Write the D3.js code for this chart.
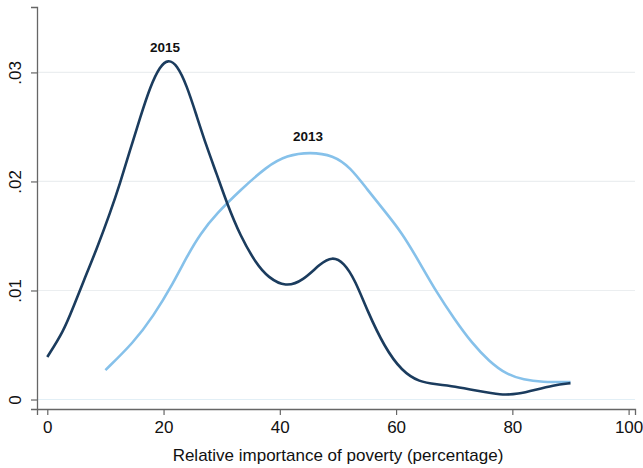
<!DOCTYPE html>
<html>
<head>
<meta charset="utf-8">
<script src="https://cdn.jsdelivr.net/npm/d3@7"></script>
<style>
  body { margin: 0; background: #fff; }
  svg { display: block; font-family: "Liberation Sans", Arial, sans-serif; }
</style>
</head>
<body>
<div id="chart"></div>
<script>
// kernel density values
var x2015 = [0, 2.75, 4.5, 6.2, 8.5, 10.8, 12.5, 14.2, 16, 17.7, 19.4, 20.8, 22.3, 24, 25.7, 27.4, 29.2, 30.9, 33.2,
             36, 38, 41, 44, 47, 49, 51, 53, 55, 58, 61, 64, 67, 70, 74, 78, 81, 84, 87, 90];
var y2015 = [0.0039, 0.0062, 0.0085, 0.0108, 0.0138, 0.0171, 0.0198, 0.0228, 0.0259, 0.0287, 0.0306, 0.0312, 0.0307, 0.0288, 0.0260, 0.0232, 0.0206, 0.0180, 0.0150,
             0.0124, 0.0112, 0.0103, 0.0109, 0.0125, 0.0131, 0.0126, 0.0109, 0.0082, 0.0048, 0.0026, 0.0016, 0.0014, 0.0012, 0.0008, 0.0004, 0.0005, 0.0009, 0.0013, 0.0015];

var x2013 = [10, 14.8, 18.2, 21.7, 24, 26.3, 29.2, 33.2, 37.8, 41.2, 45.2, 49.2, 52.1, 55, 58, 61, 64, 67, 70, 73, 76, 79, 82, 85, 90];
var y2013 = [0.0027, 0.0052, 0.0076, 0.0107, 0.0131, 0.0152, 0.0171, 0.0192, 0.0214, 0.0224, 0.0227, 0.0224, 0.0213, 0.0193, 0.0173, 0.0153, 0.0126, 0.0098, 0.0074, 0.0052, 0.0035, 0.0023, 0.0018, 0.0016, 0.0016];

var xTicks = [0, 20, 40, 60, 80, 100];
var yTicks = [0, 0.01, 0.02, 0.03];
var yTickLabels = ["0", ".01", ".02", ".03"];

var width = 643, height = 468;

var svg = d3.select("#chart").append("svg")
    .attr("width", width)
    .attr("height", height);

// scales stretched so the axis lines run past the first and last ticks
var x = d3.scaleLinear().domain([-1.77, 101.1]).range([37, 635]);
var y = d3.scaleLinear().domain([-0.00087, 0.036]).range([409, 7]);

// grid
svg.append("g").selectAll("line")
    .data(yTicks)
    .enter().append("line")
    .attr("x1", 38).attr("x2", 635)
    .attr("y1", function (d) { return y(d); })
    .attr("y2", function (d) { return y(d); })
    .attr("stroke", function (d) { return d === 0 ? "#e2eff6" : "#ebeef0"; })
    .attr("stroke-width", 1.2);

var xAxis = svg.append("g")
    .attr("transform", "translate(0,409)")
    .call(d3.axisBottom(x).tickValues(xTicks).tickSizeOuter(0).tickSize(6).tickPadding(6));

var yAxis = svg.append("g")
    .attr("transform", "translate(37,0)")
    .call(d3.axisLeft(y).tickValues(yTicks).tickSizeOuter(0).tickSize(6)
        .tickFormat(function (d, i) { return yTickLabels[i]; }));

[xAxis, yAxis].forEach(function (a) {
    a.select(".domain").attr("stroke", "#666").attr("stroke-width", 1.3);
    a.selectAll(".tick line").attr("stroke", "#666").attr("stroke-width", 1.2);
    a.selectAll(".tick text").attr("fill", "#111").style("font-size", "17px");
});

yAxis.selectAll(".tick text")
    .attr("x", null).attr("dy", null)
    .attr("transform", "translate(-16,0) rotate(-90)")
    .attr("text-anchor", "middle");

svg.append("text")
    .attr("x", 338).attr("y", 461)
    .attr("text-anchor", "middle")
    .attr("fill", "#111")
    .style("font-size", "17px")
    .text("Relative importance of poverty (percentage)");

var line = d3.line()
    .x(function (d) { return x(d[0]); })
    .y(function (d) { return y(d[1]); })
    .curve(d3.curveBasis);

svg.append("path")
    .datum(d3.zip(x2013, y2013))
    .attr("fill", "none")
    .attr("stroke", "#86c1ea")
    .attr("stroke-width", 2.6)
    .attr("d", line);

svg.append("path")
    .datum(d3.zip(x2015, y2015))
    .attr("fill", "none")
    .attr("stroke", "#1b3c5e")
    .attr("stroke-width", 2.6)
    .attr("d", line);

svg.append("text")
    .attr("x", 165).attr("y", 52)
    .attr("text-anchor", "middle")
    .attr("fill", "#111")
    .style("font-size", "13.5px")
    .style("font-weight", "bold")
    .text("2015");

svg.append("text")
    .attr("x", 308).attr("y", 141)
    .attr("text-anchor", "middle")
    .attr("fill", "#111")
    .style("font-size", "13.5px")
    .style("font-weight", "bold")
    .text("2013");
</script>
</body>
</html>
